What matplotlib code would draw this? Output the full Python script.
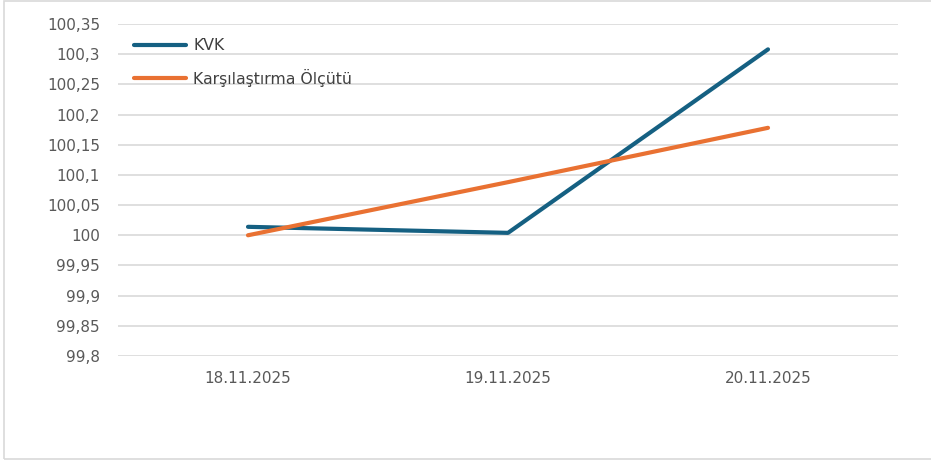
import matplotlib
matplotlib.use("Agg")
import matplotlib.pyplot as plt
from matplotlib.patches import Rectangle
from matplotlib.ticker import FixedLocator

categories = ["18.11.2025", "19.11.2025", "20.11.2025"]
kvk = [100.014, 100.004, 100.308]
benchmark = [100.0, 100.088, 100.178]
series_names = ["KVK", "Karşılaştırma Ölçütü"]
y_ticks = [99.8, 99.85, 99.9, 99.95, 100.0, 100.05, 100.1, 100.15, 100.2, 100.25, 100.3, 100.35]
y_labels = ["99,8", "99,85", "99,9", "99,95", "100", "100,05", "100,1", "100,15", "100,2", "100,25", "100,3", "100,35"]

plt.rcParams['font.family'] = ['DejaVu Sans']

W, H = 931, 463
fig = plt.figure(figsize=(W / 100, H / 100), dpi=100)
fig.patch.set_facecolor("white")
fig.add_artist(Rectangle((4 / W, 1 - 459 / H), 1.0, 458 / H, transform=fig.transFigure,
                         fill=False, edgecolor="#D9D9D9", linewidth=1.2))

ax = fig.add_axes([118 / W, 1 - 356 / H, 780 / W, 332 / H])
x = list(range(len(categories)))
ax.plot(x, kvk, color="#156082", linewidth=3.0, solid_capstyle="round", label=series_names[0], zorder=3)
ax.plot(x, benchmark, color="#E97132", linewidth=3.0, solid_capstyle="round", label=series_names[1], zorder=3)

ax.set_xlim(-0.5, 2.5)
ax.set_ylim(99.8, 100.35)
ax.yaxis.set_major_locator(FixedLocator(y_ticks))
ax.set_yticklabels(y_labels)
ax.set_xticks(x)
ax.set_xticklabels(categories)
ax.tick_params(axis="both", length=0, labelsize=11, labelcolor="#595959")
ax.tick_params(axis="y", pad=13)
ax.tick_params(axis="x", pad=11)
ax.grid(axis="y", color="#D9D9D9", linewidth=1.2)
ax.set_axisbelow(True)
for s in ax.spines.values():
    s.set_visible(False)

leg = ax.legend(loc="upper left", bbox_to_anchor=(0.003, 1.0), frameon=False, fontsize=11.3,
                handlelength=3.3, handletextpad=0.45, labelspacing=1.0, borderaxespad=0.5)
for t in leg.get_texts():
    t.set_color("#404040")

fig.savefig("out.png", dpi=100, facecolor="white")
